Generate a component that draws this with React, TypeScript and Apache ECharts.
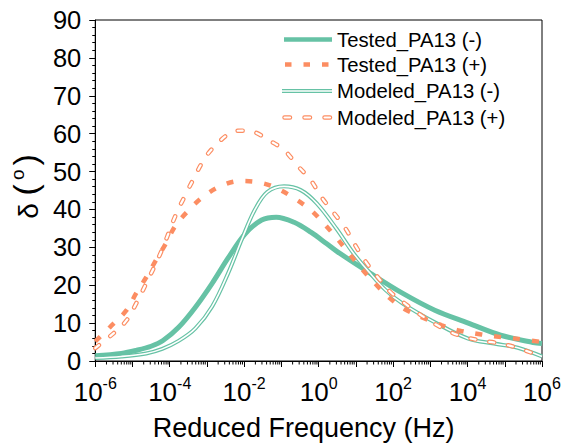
import React, { useEffect, useRef } from 'react';
import * as echarts from 'echarts';

// ---- data (x = log10 of reduced frequency in Hz, y = phase angle δ in degrees) ----
const testedNegLogF = [-6.0, -5.3, -4.9, -4.5, -4.18, -3.76, -3.31, -2.86, -2.43, -1.98, -1.53, -1.14, -0.66, -0.21, 0.21, 0.48, 1.38, 2.25, 3.12, 4.02, 4.89, 5.76, 6.0];
const testedNegDelta = [1.4, 2.0, 2.8, 3.9, 5.4, 8.9, 14.2, 20.5, 27.2, 33.5, 37.2, 37.95, 36.6, 34.0, 31.0, 29.0, 23.2, 17.9, 13.4, 10.0, 6.8, 4.9, 4.6];

const testedPosLogF = [-6.0, -5.61, -5.16, -4.9, -4.63, -4.37, -4.1, -3.84, -3.49, -3.12, -2.65, -2.12, -1.64, -1.19, -0.66, -0.21, 0.13, 0.48, 0.85, 1.14, 1.51, 1.91, 2.33, 2.83, 3.31, 3.79, 4.37, 4.9, 5.38, 6.0];
const testedPosDelta = [5.2, 8.9, 13.4, 17.9, 22.1, 26.6, 31.1, 35.8, 39.8, 43.2, 46.1, 47.5, 47.2, 45.9, 43.0, 39.8, 36.4, 32.5, 28.0, 24.5, 20.5, 16.6, 13.6, 11.3, 9.4, 8.0, 7.0, 6.3, 5.8, 5.0];

const modeledNegLogF = [-6.0, -5.3, -4.63, -4.2, -3.76, -3.31, -2.86, -2.43, -2.06, -1.72, -1.38, -0.93, -0.48, -0.05, 0.48, 0.93, 1.38, 1.8, 2.25, 3.12, 4.02, 4.71, 5.35, 6.0];
const modeledNegDelta = [0.8, 1.2, 2.0, 3.2, 5.3, 8.6, 14.4, 23.2, 32.2, 39.8, 44.6, 46.1, 45.1, 41.6, 34.9, 28.5, 23.2, 18.7, 15.2, 10.2, 5.9, 4.6, 3.5, 1.2];

const modeledPosLogF = [-6.0, -5.51, -5.16, -4.9, -4.63, -4.37, -4.18, -3.84, -3.57, -3.39, -3.12, -2.86, -2.33, -2.05, -1.7, -1.38, -0.93, -0.58, -0.21, 0.08, 0.4, 0.72, 0.98, 1.27, 1.59, 1.93, 2.38, 2.83, 3.3, 3.76, 4.29, 4.82, 5.3, 5.77, 6.0];
const modeledPosDelta = [3.4, 7.3, 10.7, 15.2, 20.5, 25.8, 30.0, 38.5, 44.0, 47.5, 52.5, 56.0, 60.4, 60.8, 60.3, 58.5, 55.7, 51.7, 47.7, 43.2, 39.2, 35.0, 30.6, 26.1, 22.1, 18.2, 14.7, 11.6, 8.8, 6.8, 5.5, 4.7, 3.6, 2.0, 1.2];

const decadeExponents = [-6, -5, -4, -3, -2, -1, 0, 1, 2, 3, 4, 5];
const minorMultipliers = [2, 3, 4, 5, 6, 7, 8, 9];
const legendLabels = ['Tested_PA13 (-)', 'Tested_PA13 (+)', 'Modeled_PA13 (-)', 'Modeled_PA13 (+)'];

const GREEN = '#66c2a5';
const ORANGE = '#fc8d62';
const FONT = "'Liberation Sans', Arial, Helvetica, sans-serif";

const zip = (xs: number[], ys: number[]) => xs.map((x, i) => [x, ys[i]]);

export default function App() {
  const ref = useRef<HTMLDivElement>(null);
  useEffect(() => {
    if (!ref.current) return;
    const chart = echarts.init(ref.current, undefined, { renderer: 'svg' });
    const minorX: number[] = [];
    decadeExponents.forEach((n) => minorMultipliers.forEach((k) => minorX.push(n + Math.log10(k))));

    const lineBase = { type: 'line', showSymbol: false, smooth: 0.35, emphasis: { disabled: true }, silent: true };

    const rowY = [39.5, 64.5, 91, 117.5];
    const legend: any[] = [];
    legend.push({ type: 'line', shape: { x1: 284, y1: rowY[0], x2: 332, y2: rowY[0] }, style: { stroke: GREEN, lineWidth: 4.5 } });
    legend.push({ type: 'line', shape: { x1: 285, y1: rowY[1], x2: 332, y2: rowY[1] }, style: { stroke: ORANGE, lineWidth: 4.5, lineDash: [6.5, 12] } });
    legend.push({ type: 'line', shape: { x1: 282, y1: rowY[2], x2: 332, y2: rowY[2] }, style: { stroke: GREEN, lineWidth: 4 } });
    legend.push({ type: 'line', shape: { x1: 282, y1: rowY[2], x2: 332, y2: rowY[2] }, style: { stroke: '#fff', lineWidth: 1.6 } });
    legend.push({ type: 'line', shape: { x1: 284.5, y1: rowY[3], x2: 332, y2: rowY[3] }, style: { stroke: ORANGE, lineWidth: 4.5, lineDash: [5.5, 14.5], lineCap: 'round' } });
    legend.push({ type: 'line', shape: { x1: 284.5, y1: rowY[3], x2: 332, y2: rowY[3] }, style: { stroke: '#fff', lineWidth: 2.2, lineDash: [5.5, 14.5], lineCap: 'round' } });
    legendLabels.forEach((t, i) => {
      legend.push({ type: 'text', x: 337, y: rowY[i], style: { text: t, fontSize: 20.3, fontFamily: FONT, fill: '#000', verticalAlign: 'middle', align: 'left' } });
    });

    chart.setOption({
      animation: false,
      backgroundColor: '#fff',
      grid: { left: 88, right: 30, top: 20, bottom: 87, show: true, borderColor: '#000', borderWidth: 1, backgroundColor: 'transparent' },
      xAxis: {
        type: 'value', min: -6, max: 6, interval: 1,
        axisLine: { show: true, onZero: false, lineStyle: { color: '#000', width: 1 } },
        axisTick: { show: true, inside: false, length: 6, lineStyle: { color: '#000' } },
        splitLine: { show: false },
        axisLabel: {
          margin: 14,
          formatter: (v: number) => (Math.abs(Math.round(v)) % 2 === 0 ? `{b|10}{s|${Math.round(v)}}` : ''),
          rich: {
            b: { fontSize: 26, fontFamily: FONT, color: '#000', lineHeight: 30, verticalAlign: 'bottom' },
            s: { fontSize: 16, fontFamily: FONT, color: '#000', lineHeight: 20, verticalAlign: 'top' },
          },
        },
        name: 'Reduced Frequency (Hz)', nameLocation: 'middle', nameGap: 53,
        nameTextStyle: { fontSize: 27, fontFamily: FONT, color: '#000', padding: [0, 30, 0, 0] },
      },
      yAxis: {
        type: 'value', min: 0, max: 90, interval: 10,
        axisLine: { show: true, onZero: false, lineStyle: { color: '#000', width: 1 } },
        axisTick: { show: true, inside: false, length: 6, lineStyle: { color: '#000' } },
        minorTick: { show: true, splitNumber: 5, length: 3, lineStyle: { color: '#000' } },
        splitLine: { show: false },
        axisLabel: { fontSize: 25.5, fontFamily: FONT, color: '#000', margin: 14 },
        name: '{a|δ }{p|(}{s|o}{p|)}', nameLocation: 'middle', nameGap: 48,
        nameTextStyle: {
          fontSize: 28, fontFamily: FONT, color: '#000', padding: [0, 0, 0, 8],
          rich: {
            a: { fontSize: 28, fontFamily: FONT, color: '#000', lineHeight: 34, verticalAlign: 'bottom' },
            p: { fontSize: 34, fontFamily: FONT, color: '#000', lineHeight: 34, verticalAlign: 'bottom' },
            s: { fontSize: 19, fontFamily: FONT, color: '#000', lineHeight: 24, verticalAlign: 'top', padding: [0, 4, 0, 4] },
          },
        },
      },
      series: [
        { ...lineBase, name: legendLabels[0], data: zip(testedNegLogF, testedNegDelta), z: 2, lineStyle: { color: GREEN, width: 5 } },
        { ...lineBase, name: legendLabels[2], data: zip(modeledNegLogF, modeledNegDelta), z: 3, lineStyle: { color: GREEN, width: 4 } },
        { ...lineBase, name: legendLabels[2] + ' core', data: zip(modeledNegLogF, modeledNegDelta), z: 4, lineStyle: { color: '#fff', width: 1.6 } },
        { ...lineBase, name: legendLabels[1], data: zip(testedPosLogF, testedPosDelta), z: 5, lineStyle: { color: ORANGE, width: 4.5, type: [7, 12], cap: 'butt' } },
        { ...lineBase, name: legendLabels[3], data: zip(modeledPosLogF, modeledPosDelta), z: 6, lineStyle: { color: ORANGE, width: 4.5, type: [5, 14], cap: 'round' } },
        { ...lineBase, name: legendLabels[3] + ' core', data: zip(modeledPosLogF, modeledPosDelta), z: 7, lineStyle: { color: '#fff', width: 2.2, type: [5, 14], cap: 'round' } },
        {
          type: 'custom', name: 'minor ticks', silent: true, clip: false, z: 10,
          data: minorX.map((v) => [v, 0]),
          encode: { x: 0, y: 1 },
          renderItem: (_p: any, api: any) => {
            const pt = api.coord([api.value(0), 0]);
            return { type: 'line', shape: { x1: pt[0], y1: pt[1], x2: pt[0], y2: pt[1] + 3.5 }, style: { stroke: '#000', lineWidth: 1 } };
          },
        },
      ],
      graphic: legend,
    });
    return () => chart.dispose();
  }, []);
  return <div ref={ref} style={{ position: 'fixed', left: 0, top: 0, width: 572, height: 448, background: '#fff' }} />;
}
